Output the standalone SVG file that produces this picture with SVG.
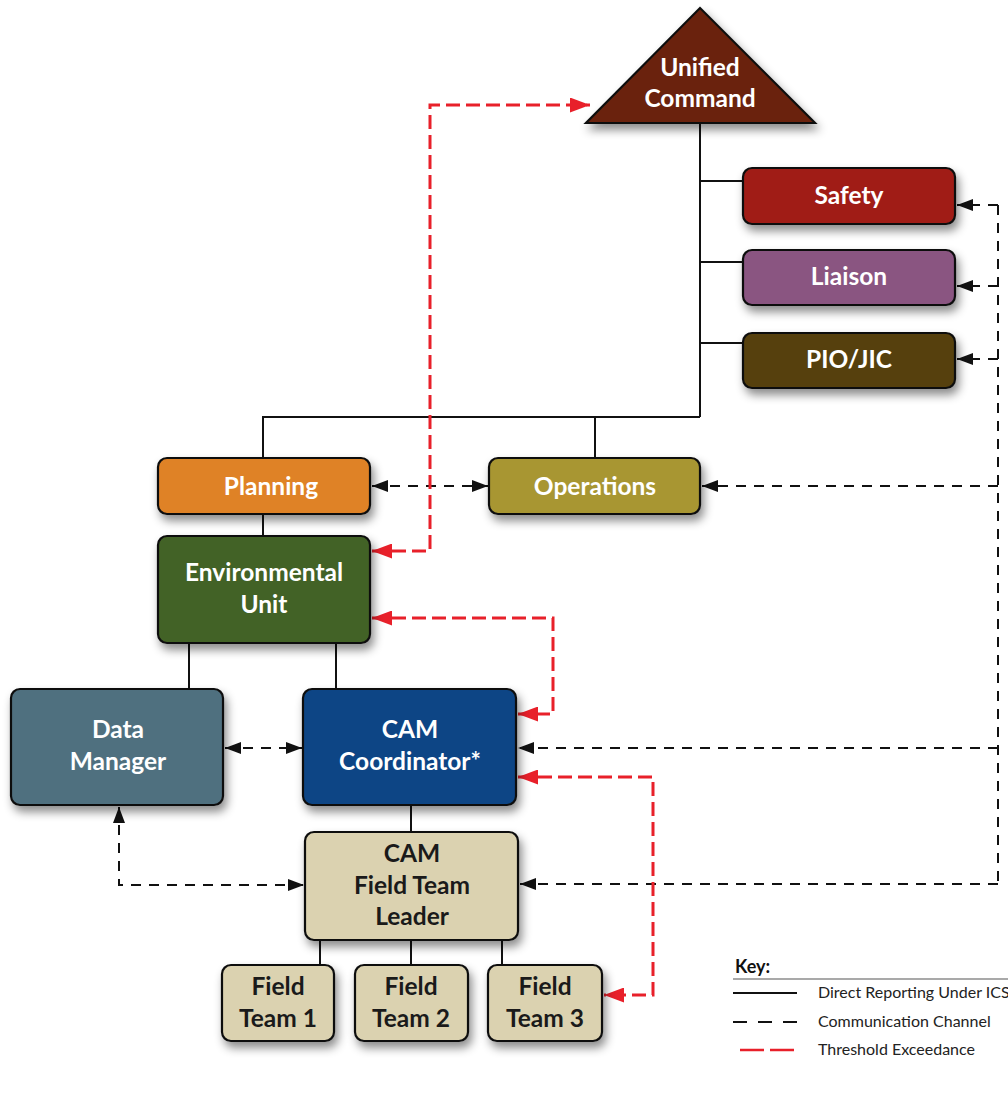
<svg xmlns="http://www.w3.org/2000/svg" width="1008" height="1103" viewBox="0 0 1008 1103">
<style>
.n{stroke:#111;stroke-width:2.2}
.t{font-family:Lato,"Liberation Sans",sans-serif;font-weight:bold;font-size:24.5px;fill:#fff;text-anchor:middle}
.d{fill:#1a1a1a}
.s{stroke:#111;stroke-width:2;fill:none}
.c{stroke:#111;stroke-width:2;fill:none;stroke-dasharray:10 8}
.r{stroke:#e8202a;stroke-width:3;fill:none;stroke-dasharray:14 6}
.k{font-family:Lato,"Liberation Sans",sans-serif;font-size:16px;fill:#222}
</style>
<defs>
<filter id="sh" x="-20%" y="-20%" width="150%" height="160%">
<feDropShadow dx="3" dy="6" stdDeviation="5" flood-color="#000" flood-opacity="0.45"/>
</filter>
<marker id="ab" viewBox="0 0 16 12" refX="16" refY="6" markerWidth="16" markerHeight="12" orient="auto-start-reverse" markerUnits="userSpaceOnUse"><path d="M0,0L16,6L0,12z" fill="#111"/></marker>
<marker id="ar" viewBox="0 0 20 15" refX="20" refY="7.5" markerWidth="20" markerHeight="15" orient="auto-start-reverse" markerUnits="userSpaceOnUse"><path d="M0,0L20,7.5L0,15z" fill="#e8202a"/></marker>
</defs>

<g id="connectors">
<path class="s" d="M700,123V417M700,181H743M700,262H743M700,343H743M263,458V417H700M595,417V458M263,514V536M189,643V689M336,643V689M411,805V832M320,940V965M411,940V965M502,940V965"/>
<path class="c" d="M372,486H488" marker-start="url(#ab)" marker-end="url(#ab)"/>
<path class="c" d="M998,486H702" marker-end="url(#ab)"/>
<path class="c" d="M998,205H957" marker-end="url(#ab)"/>
<path class="c" d="M998,286H957" marker-end="url(#ab)"/>
<path class="c" d="M998,359H957" marker-end="url(#ab)"/>
<path class="c" d="M998,205V884"/>
<path class="c" d="M998,748H518" marker-end="url(#ab)"/>
<path class="c" d="M998,884H520" marker-end="url(#ab)"/>
<path class="c" d="M225,748H302" marker-start="url(#ab)" marker-end="url(#ab)"/>
<path class="c" d="M119,807V885H304" marker-start="url(#ab)" marker-end="url(#ab)"/>
<path class="r" d="M372,551H430V105H590" marker-start="url(#ar)" marker-end="url(#ar)"/>
<path class="r" d="M372,618H553V714H518" marker-start="url(#ar)" marker-end="url(#ar)"/>
<path class="r" d="M518,777H653V995H604" marker-start="url(#ar)" marker-end="url(#ar)"/>
</g>

<g id="unified-command"><path class="n" d="M700,8L815,123H586Z" fill="#6b2208" filter="url(#sh)"/><text class="t" x="700" y="76">Unified</text><text class="t" x="700" y="107">Command</text></g>
<g id="safety"><rect class="n" x="743" y="168" width="212" height="56" rx="9" fill="#a01f15" filter="url(#sh)"/><text class="t" x="849" y="204">Safety</text></g>
<g id="liaison"><rect class="n" x="743" y="250" width="212" height="55" rx="9" fill="#8a5581" filter="url(#sh)"/><text class="t" x="849" y="285">Liaison</text></g>
<g id="pio-jic"><rect class="n" x="743" y="333" width="212" height="55" rx="9" fill="#56400e" filter="url(#sh)"/><text class="t" x="849" y="368">PIO/JIC</text></g>
<g id="planning"><rect class="n" x="158" y="458" width="212" height="56" rx="9" fill="#df8228" filter="url(#sh)"/><text class="t" x="271" y="495">Planning</text></g>
<g id="operations"><rect class="n" x="489" y="458" width="211" height="56" rx="9" fill="#a89632" filter="url(#sh)"/><text class="t" x="595" y="495">Operations</text></g>
<g id="environmental-unit"><rect class="n" x="158" y="536" width="212" height="107" rx="9" fill="#436225" filter="url(#sh)"/><text class="t" x="264" y="581">Environmental</text><text class="t" x="264" y="613">Unit</text></g>
<g id="data-manager"><rect class="n" x="11" y="689" width="212" height="116" rx="9" fill="#50707f" filter="url(#sh)"/><text class="t" x="118" y="738">Data</text><text class="t" x="118" y="770">Manager</text></g>
<g id="cam-coordinator"><rect class="n" x="303" y="689" width="213" height="116" rx="9" fill="#0e4585" filter="url(#sh)"/><text class="t" x="410" y="738">CAM</text><text class="t" x="410" y="770">Coordinator*</text></g>
<g id="cam-field-team-leader"><rect class="n" x="305" y="832" width="213" height="108" rx="9" fill="#dbd2b0" filter="url(#sh)"/><text class="t d" x="412" y="862">CAM</text><text class="t d" x="412" y="894">Field Team</text><text class="t d" x="412" y="925">Leader</text></g>
<g id="field-team-1"><rect class="n" x="222" y="965" width="112" height="76" rx="9" fill="#dbd2b0" filter="url(#sh)"/><text class="t d" x="278" y="995">Field</text><text class="t d" x="278" y="1027">Team 1</text></g>
<g id="field-team-2"><rect class="n" x="355" y="965" width="113" height="76" rx="9" fill="#dbd2b0" filter="url(#sh)"/><text class="t d" x="411" y="995">Field</text><text class="t d" x="411" y="1027">Team 2</text></g>
<g id="field-team-3"><rect class="n" x="488" y="965" width="114" height="76" rx="9" fill="#dbd2b0" filter="url(#sh)"/><text class="t d" x="545" y="995">Field</text><text class="t d" x="545" y="1027">Team 3</text></g>

<g id="key">
<text x="735" y="973" style="font-family:Lato,'Liberation Sans',sans-serif;font-weight:bold;font-size:18px;fill:#111">Key:</text>
<path d="M733,979H1008" stroke="#555" stroke-width="1.2"/>
<path d="M733,993H797" stroke="#111" stroke-width="2"/>
<path d="M733,1022H797" stroke="#111" stroke-width="2" stroke-dasharray="14 11"/>
<path d="M740,1050H797" stroke="#e8202a" stroke-width="2.5" stroke-dasharray="24 6"/>
<text class="k" x="818" y="998">Direct Reporting Under ICS</text>
<text class="k" x="818" y="1027">Communication Channel</text>
<text class="k" x="818" y="1055">Threshold Exceedance</text>
</g>
</svg>
